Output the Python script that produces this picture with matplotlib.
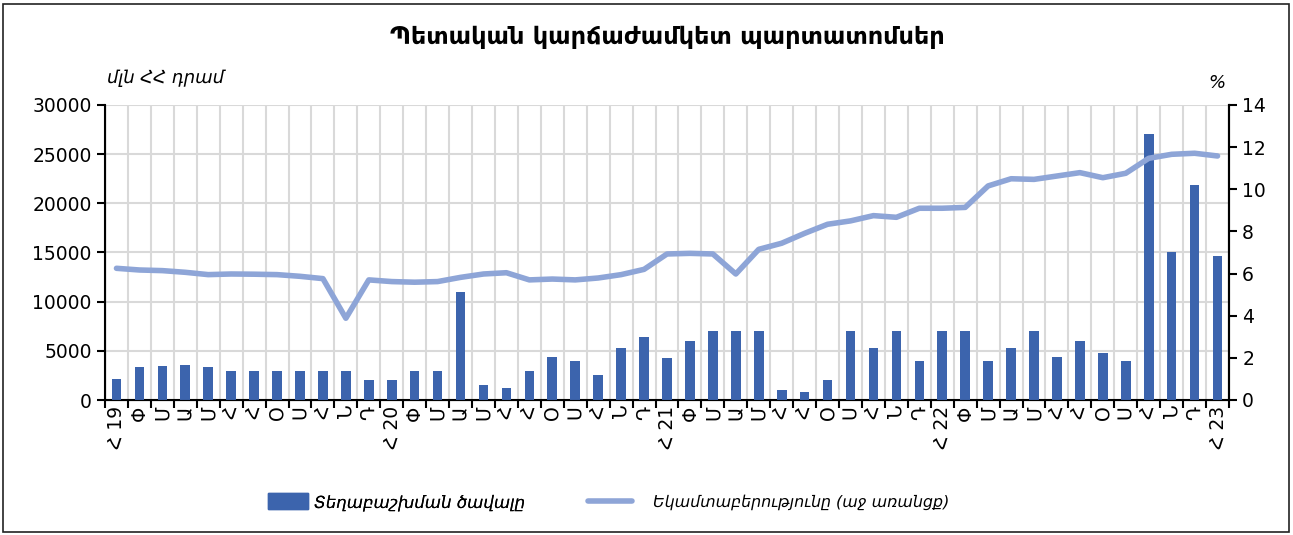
import matplotlib
matplotlib.use("Agg")
import matplotlib.pyplot as plt
import numpy as np
from matplotlib.patches import Rectangle
from matplotlib.lines import Line2D

plt.rcParams['font.family'] = ['DejaVu Sans']

month_letters = ['Հ', 'Փ', 'Մ', 'Ա', 'Մ', 'Հ', 'Հ', 'Օ', 'Ս', 'Հ', 'Ն', 'Դ']
years = ['19', '20', '21', '22']
tick_labels = []
for y in years:
    for i, m in enumerate(month_letters):
        tick_labels.append(f'{m} {y}' if i == 0 else m)
tick_labels.append('Հ 23')

volume = [2100, 3400, 3500, 3550, 3350, 3000, 3000, 3000, 3000, 3000, 3000, 2000,
          2000, 3000, 3000, 11000, 1500, 1200, 3000, 4400, 4000, 2500, 5300, 6400,
          4300, 6000, 7000, 7000, 7000, 1000, 800, 2000, 7000, 5300, 7000, 4000,
          7000, 7000, 4000, 5300, 7000, 4400, 6000, 4800, 4000, 27000, 15100, 21900,
          14650]
yield_pct = [6.25, 6.17, 6.14, 6.06, 5.95, 5.98, 5.97, 5.95, 5.87, 5.76, 3.88, 5.70,
             5.62, 5.59, 5.62, 5.82, 5.98, 6.04, 5.70, 5.74, 5.70, 5.79, 5.95, 6.20,
             6.93, 6.96, 6.93, 5.98, 7.15, 7.44, 7.91, 8.34, 8.50, 8.75, 8.67, 9.10,
             9.10, 9.14, 10.16, 10.50, 10.47, 10.63, 10.79, 10.55, 10.76, 11.47, 11.66,
             11.71, 11.58]

title = 'Պետական կարճաժամկետ պարտատոմսեր'
left_unit = 'մլն ՀՀ դրամ'
right_unit = '%'
label_bar = 'Տեղաբաշխման ծավալը'
label_line = 'Եկամտաբերությունը (աջ առանցք)'

bar_color = '#3C64AD'
line_color = '#8EA5D7'
grid_color = '#D9D9D9'

W, H = 1293, 535
fig = plt.figure(figsize=(W / 100, H / 100), dpi=100)
ax = fig.add_axes([105 / W, 1 - 400 / H, (1229 - 105) / W, (400 - 105) / H])

x = np.arange(len(volume))
ax.bar(x, volume, width=0.42, color=bar_color, zorder=3)
ax.set_xlim(-0.5, len(volume) - 0.5)
ax.set_ylim(0, 30000)
ax.set_yticks(np.arange(0, 30001, 5000))
ax.tick_params(axis='y', labelsize=13.5, direction='out', length=6, width=1.5)

ax.set_xticks(np.arange(-0.5, len(volume), 1.0))
ax.set_xticklabels([])
ax.set_xticks(x, minor=True)
ax.set_xticklabels(tick_labels, minor=True, rotation=90, fontsize=13.5)
ax.tick_params(axis='x', which='major', direction='out', length=6, width=1.5)
ax.tick_params(axis='x', which='minor', length=0, pad=4)
ax.grid(True, which='major', axis='both', color=grid_color, linewidth=1.5, zorder=0)
ax.set_axisbelow(True)
ax.spines['top'].set_visible(False)
for s in ['left', 'bottom', 'right']:
    ax.spines[s].set_linewidth(1.5)

ax2 = ax.twinx()
ax2.plot(x, yield_pct, color=line_color, linewidth=4.0, solid_capstyle='round', zorder=4)
ax2.set_ylim(0, 14)
ax2.set_yticks(np.arange(0, 15, 2))
ax2.tick_params(axis='y', labelsize=13.5, direction='out', length=6, width=1.5)
ax2.spines['top'].set_visible(False)
ax2.spines['right'].set_linewidth(1.5)

fig.text(0.5 * (388 + 946) / W, 1 - 37 / H, title, ha='center', va='center',
         fontsize=17.3, fontweight='bold')
fig.text(107 / W, 1 - 78 / H, left_unit, ha='left', va='center', fontsize=13, style='italic')
fig.text(1225 / W, 1 - 83 / H, right_unit, ha='right', va='center', fontsize=13, style='italic')

h_bar = Rectangle((0, 0), 1, 1, color=bar_color)
h_line = Line2D([0], [0], color=line_color, linewidth=4.0, solid_capstyle='round')
leg1 = fig.legend([h_bar], [label_bar], loc='center left',
                  bbox_to_anchor=(268 / W, 1 - 502 / H), frameon=False,
                  prop={'size': 12.0, 'style': 'italic'},
                  handlelength=2.4, handleheight=1.1, handletextpad=0.35,
                  borderpad=0, borderaxespad=0)
leg2 = fig.legend([h_line], [label_line], loc='center left',
                  bbox_to_anchor=(588 / W, 1 - 502 / H), frameon=False,
                  prop={'size': 11.4, 'style': 'italic'},
                  handlelength=2.8, handletextpad=1.3,
                  borderpad=0, borderaxespad=0)
fig.add_artist(leg1)

fig.patches.append(Rectangle((3 / W, 3 / H), (W - 7) / W, (H - 7) / H, transform=fig.transFigure,
                             fill=False, edgecolor='#222222', linewidth=1.2))

fig.savefig('out.png', dpi=100)
